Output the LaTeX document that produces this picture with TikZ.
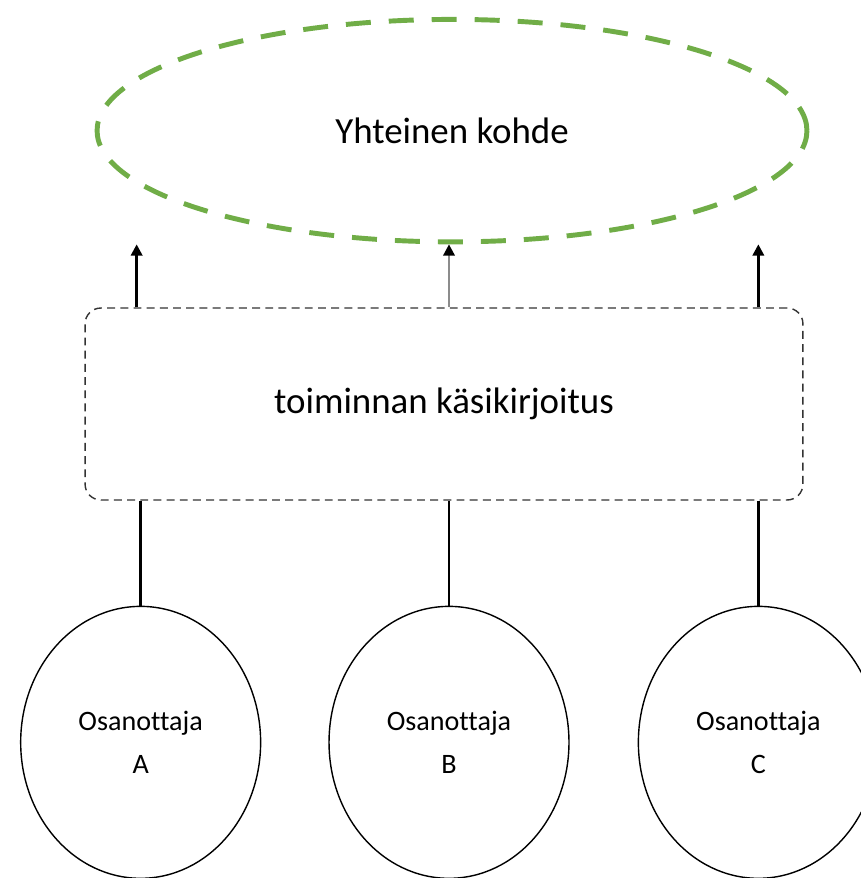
\documentclass[tikz,border=0pt]{standalone}
\usepackage{fontspec}
\setmainfont{Carlito}[Ligatures=NoCommon]
\usetikzlibrary{shapes.geometric, arrows.meta, positioning, calc}
\definecolor{kohdegreen}{HTML}{70AD47}

\begin{document}
\begin{tikzpicture}[
    x=0.02cm, y=-0.02cm,
    every node/.style={font=\fontsize{21}{24}\selectfont},
    goal/.style={ellipse, draw=kohdegreen, line width=2.8pt,
                 dash pattern=on 0.5cm off 0.36cm,
                 minimum width=14.2cm, minimum height=4.45cm, inner sep=0pt},
    script/.style={rectangle, rounded corners=9pt, draw=black!80, line width=0.8pt,
                   dash pattern=on 4.5pt off 3pt,
                   minimum width=14.36cm, minimum height=3.84cm},
    actor/.style={ellipse, draw=black, line width=0.8pt, align=center, inner sep=0pt,
                  minimum width=4.8cm, minimum height=5.44cm,
                  font=\fontsize{16}{24}\selectfont},
    arr/.style={-{Triangle[length=6.5pt, width=6.5pt, color=black]}, line width=1.5pt},
    lnk/.style={line width=1.5pt}
  ]
  \useasboundingbox (0,0) rectangle (861,878);

  \node[script] (kasik) at (444,404) {\raisebox{-4pt}{toiminnan käsikirjoitus}};
  \node[goal, above=1.26cm of kasik, xshift=0.16cm] (kohde) {Yhteinen kohde};

  \node[actor, below=2.1cm of kasik, xshift=0.1cm] (b) {Osanottaja\\B};
  \node[actor, left=1.34cm of b]  (a) {Osanottaja\\A};
  \node[actor, right=1.36cm of b] (c) {Osanottaja\\C};

  \draw[arr] ($(a |- kasik.north)+(-4,0)$) -- ($(a |- kohde.south)+(-4,0)$);
  \draw[arr, black!45] (b |- kasik.north) -- (b |- kohde.south);
  \draw[arr] (c |- kasik.north) -- (c |- kohde.south);

  \draw[lnk] (a.north) -- (a |- kasik.south);
  \draw[lnk] (b.north) -- (b |- kasik.south);
  \draw[lnk] (c.north) -- (c |- kasik.south);
\end{tikzpicture}
\end{document}
